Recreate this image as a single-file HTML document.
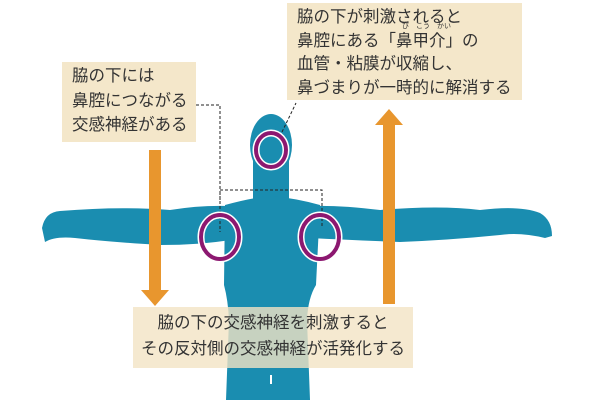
<!DOCTYPE html>
<html><head><meta charset="utf-8"><style>
body{margin:0;width:600px;height:400px;background:#fff;overflow:hidden;position:relative;font-family:"Liberation Sans","Noto Sans CJK JP",sans-serif;color:#333}
.box{position:absolute;background:rgba(243,228,196,0.9);font-size:16.5px;line-height:24.5px}
</style></head><body>
<svg width="600" height="400" style="position:absolute;left:0;top:0">
<g fill="#1a8db0">
<ellipse cx="271" cy="145" rx="21" ry="31"/>
<rect x="253" y="160" width="36" height="45"/>
<path d="M225 205 Q250 198 270 196 Q295 198 320 205 L316 285 Q308 298 307 320 L310 400 L226 400 L229 320 Q228 300 224 285 Z"/>
<path d="M42 228 Q45 212 60 211 Q120 206 170 210 Q200 205 230 206 L230 240 Q200 245 160 245 Q110 242 75 238 Q55 236 45 242 Z"/>
<path d="M310 206 Q340 205 380 210 Q440 205 480 210 Q520 205 540 213 Q552 220 552 236 L545 238 Q520 232 500 235 Q450 240 400 242 Q350 240 310 238 Z"/>
</g>
<g fill="none" stroke="#222" stroke-width="1" stroke-dasharray="3,2">
<polyline points="196,105 220,105 220,232"/>
<polyline points="220,200 220,190 322,190 322,228"/>
<line x1="282" y1="132" x2="296" y2="103"/>
</g>
<g fill="none">
<ellipse cx="271" cy="150" rx="15" ry="17" stroke="#fff" stroke-width="7"/>
<ellipse cx="271" cy="150" rx="15" ry="17" stroke="#8c1870" stroke-width="4"/>
<ellipse cx="220" cy="237" rx="19" ry="22" stroke="#fff" stroke-width="7"/>
<ellipse cx="220" cy="237" rx="19" ry="22" stroke="#8c1870" stroke-width="4"/>
<ellipse cx="320" cy="237" rx="19" ry="22" stroke="#fff" stroke-width="7"/>
<ellipse cx="320" cy="237" rx="19" ry="22" stroke="#8c1870" stroke-width="4"/>
</g>
<g fill="#e8962e">
<rect x="149" y="150" width="12" height="142"/>
<polygon points="141,290 169,290 155,306"/>
<rect x="383" y="124" width="12" height="180"/>
<polygon points="375,125 403,125 389,109"/>
</g>
</svg>
<div class="box" style="left:62px;top:62px;width:124px;height:78px;padding:2px 0 0 10px">脇の下には<br>鼻腔につながる<br>交感神経がある</div>
<div class="box" style="left:287px;top:3px;width:225px;height:94px;padding:3px 0 0 10px;line-height:23.5px">脇の下が刺激されると<br>鼻腔にある「<span style="position:relative">鼻甲介<span style="position:absolute;left:6px;top:-9px;font-size:7px;line-height:8px;white-space:nowrap">び　こう　かい</span></span>」の<br>血管・粘膜が収縮し、<br>鼻づまりが一時的に解消する</div>
<div class="box" style="left:133px;top:307px;width:280px;height:58px;padding:3px 0 0 0;text-align:center;background:rgba(243,228,196,0.8);line-height:26px">脇の下の交感神経を刺激すると<br>その反対側の交感神経が活発化する</div>
<div style="position:absolute;left:270px;top:375px;width:2px;height:9px;background:#fff"></div>
</body></html>
